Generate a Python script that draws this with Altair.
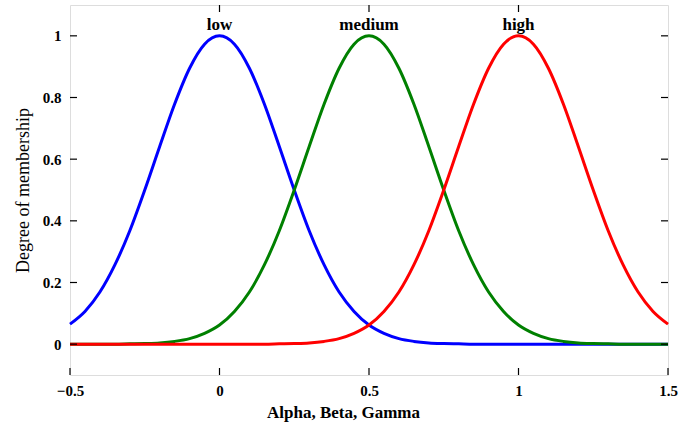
import altair as alt
import numpy as np
import pandas as pd

# Sample positions on the universe of discourse
x_grid = np.round(np.arange(-0.5, 1.5001, 0.05), 2).tolist()

# Degree of membership for each linguistic term, sampled on x_grid
low = [0.065, 0.106, 0.169, 0.257, 0.368, 0.500, 0.641, 0.779, 0.895, 0.973,
       1.000, 0.973, 0.895, 0.779, 0.641, 0.500, 0.368, 0.257, 0.169, 0.106,
       0.062, 0.035, 0.018, 0.009, 0.004, 0.002, 0.001, 0.000, 0.000, 0.000,
       0.000, 0.000, 0.000, 0.000, 0.000, 0.000, 0.000, 0.000, 0.000, 0.000,
       0.000]
medium = [0.000, 0.000, 0.000, 0.000, 0.001, 0.002, 0.004, 0.009, 0.018, 0.035,
          0.062, 0.106, 0.169, 0.257, 0.368, 0.500, 0.641, 0.779, 0.895, 0.973,
          1.000, 0.973, 0.895, 0.779, 0.641, 0.500, 0.368, 0.257, 0.169, 0.106,
          0.062, 0.035, 0.018, 0.009, 0.004, 0.002, 0.001, 0.000, 0.000, 0.000,
          0.000]
high = [0.000, 0.000, 0.000, 0.000, 0.000, 0.000, 0.000, 0.000, 0.000, 0.000,
        0.000, 0.000, 0.000, 0.000, 0.001, 0.002, 0.004, 0.009, 0.018, 0.035,
        0.062, 0.106, 0.169, 0.257, 0.368, 0.500, 0.641, 0.779, 0.895, 0.973,
        1.000, 0.973, 0.895, 0.779, 0.641, 0.500, 0.368, 0.257, 0.169, 0.106,
        0.065]

terms = ["low", "medium", "high"]
term_centers = [0.0, 0.5, 1.0]
term_colors = ["#0000ff", "#008000", "#ff0000"]

x_ticks = [-0.5, 0, 0.5, 1, 1.5]
y_ticks = [0, 0.2, 0.4, 0.6, 0.8, 1]
top_ticks = [0, 0.5, 1]

W, H = 598, 370
SERIF = "Liberation Serif"

rows = []
for i, (name, vals) in enumerate(zip(terms, [low, medium, high])):
    for xv, yv in zip(x_grid, vals):
        rows.append({"x": xv, "mu": yv, "term": name, "order": i})
curves = pd.DataFrame(rows)

xs = alt.Scale(domain=[-0.5, 1.5], nice=False, zero=False)
ys = alt.Scale(domain=[-0.1, 1.1], nice=False, zero=False)

lines = alt.Chart(curves).mark_line(strokeWidth=3, interpolate="monotone").encode(
    x=alt.X("x:Q", scale=xs, axis=alt.Axis(
        values=x_ticks, format="~g", tickSize=0, labelPadding=8, domain=False,
        grid=False, labelFont=SERIF, labelFontSize=15, labelFontWeight="bold",
        labelColor="black", labelFlush=False,
        title="Alpha, Beta, Gamma", titleFont=SERIF, titleFontSize=17,
        titleFontWeight="bold", titleColor="black", titleX=273, titleY=37,
        titleBaseline="middle")),
    y=alt.Y("mu:Q", scale=ys, axis=alt.Axis(
        values=y_ticks, format="~g", tickSize=0, labelPadding=9, domain=False,
        grid=False, labelFont=SERIF, labelFontSize=15, labelFontWeight="bold",
        labelColor="black", labelFlush=False,
        title="Degree of membership", titleFont=SERIF, titleFontSize=18,
        titleFontWeight="normal", titleColor="black", titlePadding=10)),
    color=alt.Color("term:N", scale=alt.Scale(domain=terms, range=term_colors),
                    legend=None),
    order=alt.Order("order:Q"),
)

labels = alt.Chart(pd.DataFrame({"x": term_centers, "term": terms})).mark_text(
    font=SERIF, fontSize=17, fontWeight="bold", color="black", baseline="middle"
).encode(x=alt.X("x:Q", scale=xs), y=alt.value(20), text="term:N")

tick_len = 7
bottom_ticks = alt.Chart(pd.DataFrame({"x": x_ticks})).mark_rule(
    color="black", strokeWidth=1.2
).encode(x=alt.X("x:Q", scale=xs), y=alt.value(H), y2=alt.value(H - tick_len))

top_tick_marks = alt.Chart(pd.DataFrame({"x": top_ticks})).mark_rule(
    color="black", strokeWidth=1.2
).encode(x=alt.X("x:Q", scale=xs), y=alt.value(0), y2=alt.value(tick_len))

left_ticks = alt.Chart(pd.DataFrame({"y": y_ticks})).mark_rule(
    color="black", strokeWidth=1.2
).encode(y=alt.Y("y:Q", scale=ys), x=alt.value(0), x2=alt.value(tick_len))

right_ticks = alt.Chart(pd.DataFrame({"y": y_ticks})).mark_rule(
    color="black", strokeWidth=1.2
).encode(y=alt.Y("y:Q", scale=ys), x=alt.value(W), x2=alt.value(W - tick_len))

chart = alt.layer(
    lines, labels, bottom_ticks, top_tick_marks, left_ticks, right_ticks
).properties(
    width=W, height=H,
    autosize=alt.AutoSizeParams(type="none"),
    padding={"left": 70, "top": 5, "right": 25, "bottom": 53},
).configure_view(
    stroke="black", strokeWidth=2
).configure(background="white")

chart.save("out.html", embed_options={"renderer": "svg", "actions": False})
